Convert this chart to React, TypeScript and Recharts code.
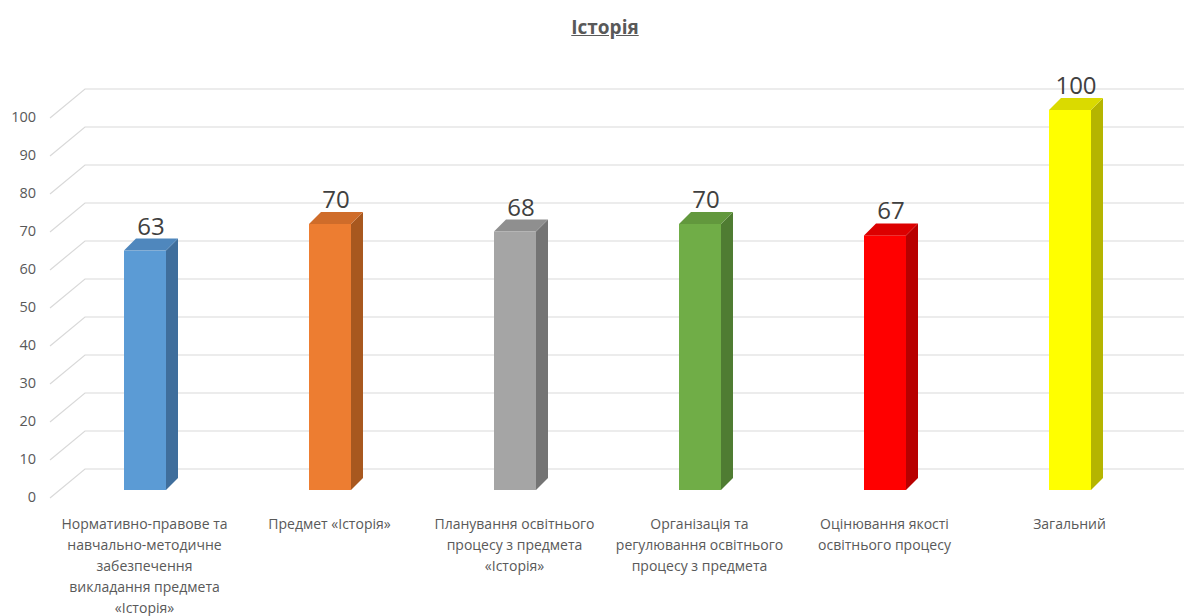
import React from "react";
import { BarChart, Bar, XAxis, YAxis, CartesianGrid, LabelList } from "recharts";

const categories: string[][] = [
  ["Нормативно-правове та", "навчально-методичне", "забезпечення", "викладання предмета", "«Історія»"],
  ["Предмет «Історія»"],
  ["Планування освітнього", "процесу з предмета", "«Історія»"],
  ["Організація та", "регулювання освітнього", "процесу з предмета"],
  ["Оцінювання якості", "освітнього процесу"],
  ["Загальний"],
];
const values: number[] = [63, 70, 68, 70, 67, 100];
const yTicks: number[] = [0, 10, 20, 30, 40, 50, 60, 70, 80, 90, 100];
const title = "Історія";

const frontColors = ["#5B9BD5", "#ED7D31", "#A5A5A5", "#70AD47", "#FF0000", "#FFFF00"];
const topColors = ["#4F87BD", "#CF6C2A", "#8F8F8F", "#62983D", "#DC0000", "#DADA00"];
const sideColors = ["#3F6E9C", "#A8581F", "#747474", "#4F7C32", "#B80000", "#B5B500"];

const data = values.map((v, i) => ({ name: String(i), value: v }));

const DEPTH = 12;
const FONT = "'Open Sans', 'DejaVu Sans', sans-serif";

const Bar3D = (props: any) => {
  const { x, y, width, height, index } = props;
  const d = DEPTH;
  return (
    <g>
      <rect x={x} y={y} width={width} height={height} fill={frontColors[index]} />
      <polygon
        points={`${x + width},${y} ${x + width + d},${y - d} ${x + width + d},${y + height - d} ${x + width},${y + height}`}
        fill={sideColors[index]}
      />
      <polygon
        points={`${x},${y} ${x + d},${y - d} ${x + width + d},${y - d} ${x + width},${y}`}
        fill={topColors[index]}
      />
    </g>
  );
};

const GridLine3D = (props: any) => {
  const { x1, x2, y1 } = props;
  const front = x1 - 2;
  const back = x1 + 33;
  return (
    <path
      d={`M${front},${y1 + 8} L${back},${y1 - 21} L${x2 + 30},${y1 - 21}`}
      stroke="#D9D9D9"
      strokeWidth={1.2}
      fill="none"
    />
  );
};

const YTick = (props: any) => {
  const { x, y, payload } = props;
  return (
    <text x={x - 8} y={y + 7} dy="0.35em" textAnchor="end" fill="#595959" fontSize={14.5} fontFamily={FONT}>
      {payload.value}
    </text>
  );
};

const XTick = (props: any) => {
  const { x, y, payload } = props;
  const lines = categories[Number(payload.value)] || [];
  return (
    <text x={x} y={y + 26} textAnchor="middle" fill="#595959" fontSize={14} fontFamily={FONT}>
      {lines.map((l, i) => (
        <tspan key={i} x={x} dy={i === 0 ? "0.35em" : 21}>
          {l}
        </tspan>
      ))}
    </text>
  );
};

const ValueLabel = (props: any) => {
  const { x, y, width, value } = props;
  return (
    <text
      x={x + width / 2 + DEPTH / 2}
      y={y - DEPTH - 4}
      textAnchor="middle"
      fill="#404040"
      fontSize={24}
      fontFamily={FONT}
    >
      {value}
    </text>
  );
};

export default function App() {
  return (
    <div style={{ position: "relative", width: 1184, height: 608, background: "#fff" }}>
      <div
        style={{
          position: "absolute",
          left: 0,
          top: 6,
          width: 1194,
          textAlign: "center",
          fontFamily: FONT,
          fontWeight: 700,
          fontSize: 19,
          color: "#595959",
          textDecoration: "underline",
        }}
      >
        {title}
      </div>
      <BarChart
        width={1184}
        height={608}
        data={data}
        margin={{ top: 102, right: 30, bottom: 0, left: 0 }}
        barSize={42}
      >
        <CartesianGrid vertical={false} horizontal={<GridLine3D />} />
        <XAxis
          dataKey="name"
          axisLine={false}
          tickLine={false}
          height={126}
          interval={0}
          tick={<XTick />}
        />
        <YAxis
          domain={[0, 100]}
          ticks={yTicks}
          axisLine={false}
          tickLine={false}
          width={44}
          tick={<YTick />}
          interval={0}
        />
        <Bar dataKey="value" isAnimationActive={false} shape={<Bar3D />}>
          <LabelList dataKey="value" content={<ValueLabel />} />
        </Bar>
      </BarChart>
    </div>
  );
}
